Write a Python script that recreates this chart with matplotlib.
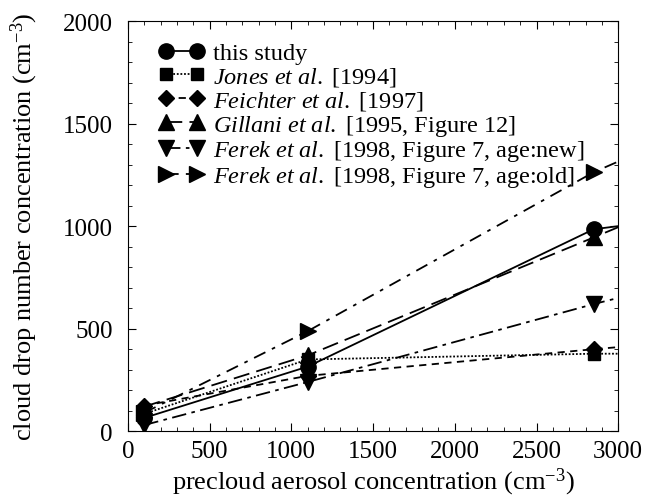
import matplotlib.pyplot as plt
import numpy as np

plt.rcParams['font.family'] = 'Liberation Serif'
plt.rcParams['mathtext.fontset'] = 'custom'
plt.rcParams['mathtext.rm'] = 'Liberation Serif'
plt.rcParams['mathtext.it'] = 'Liberation Serif:italic'

# aerosol concentration where the curves are given (last point = axis end, no marker)
aerosol = [100, 1100, 2850, 3000]

this_study = [65, 315, 985, 1000]
jones = [85, 350, 378, 378]
feichter = [125, 270, 400, 410]
gillani = [120, 370, 945, 995]
ferek_new = [30, 240, 620, 650]
ferek_old = [90, 488, 1263, 1315]

labels = [
    "this study",
    r"$\mathit{Jones\ et\ al.}\,\,$[1994]",
    r"$\mathit{Feichter\ et\ al.}\,\,$[1997]",
    r"$\mathit{Gillani\ et\ al.}\,\,$[1995, Figure 12]",
    r"$\mathit{Ferek\ et\ al.}\,\,$[1998, Figure 7, age:new]",
    r"$\mathit{Ferek\ et\ al.}\,\,$[1998, Figure 7, age:old]",
]

fig = plt.figure(figsize=(6.46, 5.02), dpi=100)
ax = fig.add_axes([0.198, 0.139, 0.759, 0.817])

series = [this_study, jones, feichter, gillani, ferek_new, ferek_old]
markers = ['o', 's', 'D', '^', 'v', '>']
msizes = [11, 9, 8, 11, 11, 11]
styles = ['-', (0, (1, 1)), (0, (4, 3)), (0, (9, 4)), (0, (8, 3, 2, 3)), (0, (7, 4, 2, 4))]

for y, m, ms, ls, lab in zip(series, markers, msizes, styles, labels):
    ax.plot(aerosol, y, color='black', linestyle=ls, lw=1.3, marker=m,
            markersize=ms, markevery=[0, 1, 2], label=lab)

ax.set_xlim(0, 3000)
ax.set_ylim(0, 2000)
ax.set_xticks(np.arange(0, 3001, 500))
ax.set_yticks(np.arange(0, 2001, 500))
ax.set_xticks(np.arange(0, 3001, 100), minor=True)
ax.set_yticks(np.arange(0, 2001, 100), minor=True)
ax.tick_params(which='both', direction='in', top=True, right=True, labelsize=18)
ax.tick_params(which='major', length=6)
ax.tick_params(which='minor', length=3)
ax.tick_params(axis='x', pad=6)
ax.tick_params(axis='y', pad=11)

ax.set_xlabel(r"precloud aerosol concentration (cm$^{-3}$)", fontsize=19, labelpad=3)
ax.set_ylabel(r"cloud drop number concentration (cm$^{-3}$)", fontsize=19, labelpad=16)

ax.legend(loc='upper left', frameon=False, fontsize=17.5, numpoints=2,
          handlelength=1.9, handletextpad=0.35, labelspacing=0.03,
          borderpad=0, borderaxespad=0, bbox_to_anchor=(0.062, 0.948))

fig.savefig('out.png', dpi=100)
